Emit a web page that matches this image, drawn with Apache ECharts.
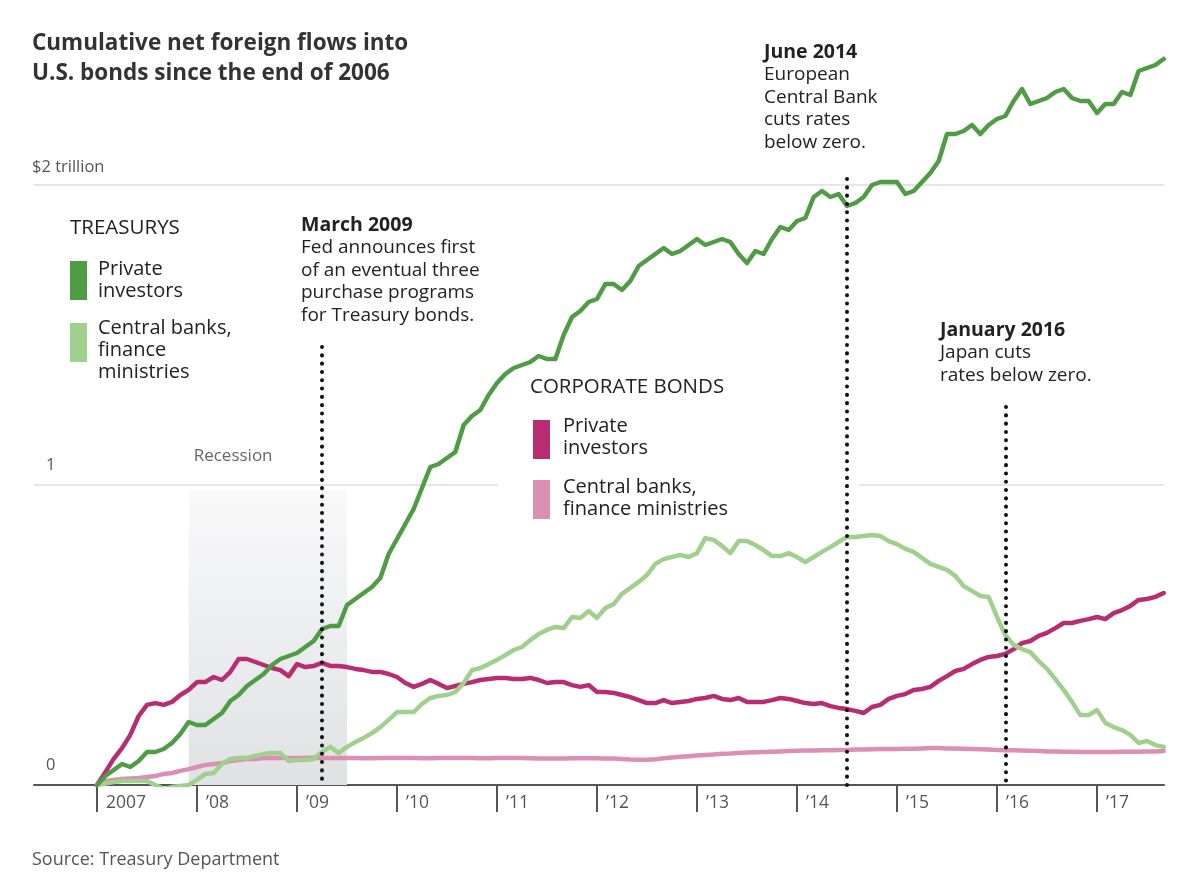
<!DOCTYPE html>
<html>
<head>
<meta charset="utf-8">
<script src="https://cdn.jsdelivr.net/npm/echarts@6/dist/echarts.min.js"></script>
<style>
  html, body { margin: 0; padding: 0; background: #fff; }
  #chart { width: 1200px; height: 895px; }
</style>
</head>
<body>
<div id="chart"></div>
<script>
// ---- DATA (trillions of dollars, month-end values; index 0 = end of 2006) ----
const startYear = 2007;
const yearTicks = [2007, 2008, 2009, 2010, 2011, 2012, 2013, 2014, 2015, 2016, 2017];
const yearLabels = ['2007', '\u201908', '\u201909', '\u201910', '\u201911', '\u201912', '\u201913', '\u201914', '\u201915', '\u201916', '\u201917'];

const treasuryPrivate = [
  0, 0.03, 0.05, 0.07, 0.06, 0.08, 0.11, 0.11, 0.12, 0.14, 0.17, 0.21,
  0.20, 0.20, 0.22, 0.24, 0.28, 0.30, 0.33, 0.35, 0.37, 0.40, 0.42, 0.43,
  0.44, 0.46, 0.48, 0.52, 0.53, 0.53, 0.60, 0.62, 0.64, 0.66, 0.69, 0.77,
  0.82, 0.87, 0.92, 0.99, 1.06, 1.07, 1.09, 1.11, 1.20, 1.23, 1.25, 1.30,
  1.34, 1.37, 1.39, 1.40, 1.41, 1.43, 1.42, 1.42, 1.50, 1.56, 1.58, 1.61,
  1.62, 1.67, 1.67, 1.65, 1.68, 1.73, 1.75, 1.77, 1.79, 1.77, 1.78, 1.80,
  1.82, 1.80, 1.81, 1.82, 1.81, 1.77, 1.74, 1.78, 1.77, 1.82, 1.86, 1.85,
  1.88, 1.89, 1.96, 1.98, 1.96, 1.97, 1.93, 1.94, 1.96, 2.00, 2.01, 2.01,
  2.01, 1.97, 1.98, 2.01, 2.04, 2.08, 2.17, 2.17, 2.18, 2.20, 2.17, 2.20,
  2.22, 2.23, 2.28, 2.32, 2.27, 2.28, 2.29, 2.31, 2.32, 2.29, 2.28, 2.28,
  2.24, 2.27, 2.27, 2.31, 2.30, 2.38, 2.39, 2.40, 2.42
];
const treasuryOfficial = [
  0, 0.005, 0.01, 0.013, 0.013, 0.013, 0.013, 0, -0.013, -0.007, -0.003, 0,
  0.017, 0.037, 0.04, 0.07, 0.087, 0.09, 0.09, 0.097, 0.103, 0.107, 0.107, 0.08,
  0.083, 0.083, 0.087, 0.11, 0.127, 0.107, 0.127, 0.143, 0.157, 0.173, 0.193, 0.217,
  0.243, 0.243, 0.243, 0.27, 0.29, 0.297, 0.30, 0.31, 0.34, 0.383, 0.39, 0.403,
  0.417, 0.433, 0.45, 0.46, 0.483, 0.503, 0.517, 0.527, 0.523, 0.56, 0.557, 0.58,
  0.557, 0.59, 0.603, 0.637, 0.657, 0.677, 0.70, 0.737, 0.753, 0.76, 0.767, 0.76,
  0.773, 0.823, 0.817, 0.797, 0.773, 0.813, 0.813, 0.80, 0.783, 0.763, 0.763, 0.773,
  0.76, 0.743, 0.76, 0.777, 0.793, 0.81, 0.827, 0.827, 0.83, 0.833, 0.83, 0.813,
  0.803, 0.787, 0.777, 0.757, 0.737, 0.727, 0.717, 0.697, 0.663, 0.647, 0.63, 0.627,
  0.56, 0.50, 0.467, 0.453, 0.443, 0.413, 0.387, 0.353, 0.317, 0.277, 0.233, 0.233,
  0.25, 0.207, 0.193, 0.183, 0.167, 0.14, 0.147, 0.133, 0.127
];
const corporatePrivate = [
  0, 0.043, 0.087, 0.123, 0.167, 0.23, 0.267, 0.273, 0.267, 0.277, 0.30, 0.317,
  0.343, 0.343, 0.36, 0.35, 0.377, 0.42, 0.42, 0.41, 0.40, 0.39, 0.383, 0.363,
  0.403, 0.393, 0.397, 0.407, 0.397, 0.397, 0.393, 0.387, 0.383, 0.377, 0.377, 0.37,
  0.36, 0.34, 0.327, 0.337, 0.35, 0.337, 0.323, 0.33, 0.337, 0.343, 0.35, 0.353,
  0.357, 0.357, 0.353, 0.353, 0.357, 0.35, 0.34, 0.343, 0.343, 0.333, 0.327, 0.333,
  0.31, 0.31, 0.307, 0.30, 0.293, 0.283, 0.273, 0.273, 0.283, 0.273, 0.277, 0.28,
  0.287, 0.29, 0.297, 0.287, 0.283, 0.29, 0.277, 0.277, 0.277, 0.283, 0.29, 0.287,
  0.28, 0.273, 0.27, 0.273, 0.263, 0.257, 0.253, 0.247, 0.24, 0.26, 0.267, 0.287,
  0.297, 0.303, 0.317, 0.32, 0.327, 0.347, 0.363, 0.38, 0.387, 0.403, 0.417, 0.427,
  0.43, 0.437, 0.453, 0.473, 0.48, 0.497, 0.507, 0.523, 0.54, 0.54, 0.547, 0.553,
  0.56, 0.553, 0.573, 0.583, 0.597, 0.617, 0.62, 0.627, 0.64
];
const corporateOfficial = [
  0, 0.013, 0.017, 0.02, 0.022, 0.023, 0.027, 0.03, 0.037, 0.04, 0.047, 0.053,
  0.06, 0.067, 0.07, 0.073, 0.08, 0.083, 0.087, 0.087, 0.09, 0.09, 0.09, 0.09,
  0.09, 0.09, 0.091, 0.09, 0.09, 0.09, 0.09, 0.09, 0.089, 0.089, 0.09, 0.09,
  0.09, 0.09, 0.09, 0.089, 0.089, 0.09, 0.09, 0.09, 0.09, 0.09, 0.089, 0.089,
  0.09, 0.09, 0.09, 0.09, 0.089, 0.088, 0.088, 0.088, 0.088, 0.089, 0.089, 0.089,
  0.089, 0.088, 0.088, 0.087, 0.085, 0.084, 0.084, 0.086, 0.089, 0.092, 0.094, 0.096,
  0.098, 0.10, 0.102, 0.104, 0.105, 0.107, 0.108, 0.109, 0.11, 0.111, 0.112, 0.113,
  0.114, 0.115, 0.115, 0.116, 0.116, 0.117, 0.117, 0.118, 0.118, 0.119, 0.12, 0.12,
  0.12, 0.121, 0.121, 0.122, 0.123, 0.123, 0.122, 0.122, 0.121, 0.12, 0.119, 0.118,
  0.117, 0.116, 0.116, 0.115, 0.114, 0.113, 0.112, 0.112, 0.111, 0.111, 0.11, 0.11,
  0.11, 0.11, 0.11, 0.111, 0.111, 0.111, 0.112, 0.112, 0.113
];

// Series names and their legend labels
const seriesNames = ['Treasurys: private investors', 'Treasurys: central banks', 'Corporate: private investors', 'Corporate: central banks'];
const legendLabels = ['Private\ninvestors', 'Central banks,\nfinance\nministries', 'Private\ninvestors', 'Central banks,\nfinance ministries'];

// Events: month index (0 = end of 2006) and the value where the dotted marker starts
const eventMonths = [27, 90, 109];
const eventTops = [1.46, 2.02, 1.26];
// Recession: Dec 2007 – June 2009 (month indexes) and shaded height
const recessionMonths = [11, 30];
const recessionTop = 0.983;
const gridValues = [1, 2];

// ---- helpers ----
const toX = (i) => startYear + i / 12;
const pairs = (arr) => arr.map((v, i) => [toX(i), v]);
const FONT = '"Open Sans", "Noto Sans", sans-serif';

const C_TP = '#4f9c45';
const C_TO = '#9fd08d';
const C_CP = '#b82c72';
const C_CO = '#db8fb3';

const chart = echarts.init(document.getElementById('chart'), null, { renderer: 'canvas' });

const lineSeries = (name, data, color, extra) => Object.assign({
  name, type: 'line', data: pairs(data), color,
  showSymbol: false, symbol: 'none', smooth: false,
  lineStyle: { color, width: 4.5, cap: 'round', join: 'round' },
  emphasis: { disabled: true }, silent: true, animation: false
}, extra || {});

// spacer: an optional thin first line that nudges the label block downward
const legendItem = (k, left, top, pad, spacer) => ({
  left, top, padding: 0, orient: 'vertical', itemWidth: 17, itemHeight: 39,
  icon: 'rect', selectedMode: false,
  textStyle: {
    fontFamily: FONT, fontSize: 20, color: '#222', lineHeight: 22, padding: pad,
    rich: { s: { fontSize: 8, lineHeight: spacer || 1 } }
  },
  data: [seriesNames[k]],
  formatter: () => (spacer ? '{s| }\n' : '') + legendLabels[k]
});
const noteStyle = (text) => ({
  text, font: '19px ' + FONT, fill: '#222', lineHeight: 22.5,
  rich: { b: { fontWeight: 'bold', fontSize: 19.5, fontFamily: FONT, fill: '#222', lineHeight: 22.5 } }
});

const option = {
  animation: false,
  textStyle: { fontFamily: FONT },
  title: {
    text: 'Cumulative net foreign flows into\nU.S. bonds since the end of 2006',
    left: 32, top: 29, padding: 0,
    textStyle: { fontFamily: FONT, fontSize: 22.5, fontWeight: 'bold', color: '#333', lineHeight: 30 }
  },
  grid: { left: 34, right: 36, top: 35, bottom: 110 },
  xAxis: {
    type: 'value',
    min: 2006.37, max: 2017.67,
    axisLine: { show: true, onZero: false, lineStyle: { color: '#555', width: 2 } },
    axisTick: { show: true, customValues: yearTicks, length: 27, lineStyle: { color: '#555', width: 2 } },
    axisLabel: {
      customValues: yearTicks,
      formatter: (v) => yearLabels[yearTicks.indexOf(Math.round(v))] || '',
      align: 'left', padding: [0, 0, 0, 9], margin: 9,
      fontFamily: FONT, fontSize: 17.5, color: '#555'
    },
    splitLine: { show: false }
  },
  yAxis: {
    type: 'value', min: 0, max: 2.5, interval: 1,
    axisLine: { show: false }, axisTick: { show: false },
    splitLine: { show: false },
    axisLabel: {
      inside: true, margin: 0,
      verticalAlign: 'bottom', lineHeight: 40,
      formatter: (v) => v === 0 ? '{n|0}' : v === 1 ? '{n|1}' : v === 2 ? '{t|$2 trillion}' : '',
      rich: {
        n: { fontFamily: FONT, fontSize: 16.5, color: '#555', padding: [0, 0, 0, 12], lineHeight: 40 },
        t: { fontFamily: FONT, fontSize: 16.5, color: '#555', padding: [0, 0, 0, -2], lineHeight: 36 }
      }
    }
  },
  legend: [
    legendItem(0, 70, 258.5, [0, 0, 0, 6]),
    legendItem(1, 70, 301.5, [0, 0, 0, 6], 16),
    legendItem(2, 533, 415.5, [0, 0, 4, 8]),
    legendItem(3, 533, 476.5, [0, 0, 2, 8])
  ],
  graphic: [
    { type: 'rect', z: 3, silent: true, shape: { x: 498, y: 478, width: 361, height: 14 }, style: { fill: '#fff' } },
    { type: 'text', left: 70, top: 217.5, silent: true,
      style: { text: 'TREASURYS', font: '20.5px ' + FONT, fill: '#222' } },
    { type: 'text', left: 530, top: 376.5, silent: true,
      style: { text: 'CORPORATE BONDS', font: '20.5px ' + FONT, fill: '#222' } },
    { type: 'text', left: 301, top: 214, silent: true,
      style: noteStyle('{b|March 2009}\nFed announces first\nof an eventual three\npurchase programs\nfor Treasury bonds.') },
    { type: 'text', left: 764, top: 41, silent: true,
      style: noteStyle('{b|June 2014}\nEuropean\nCentral Bank\ncuts rates\nbelow zero.') },
    { type: 'text', left: 940, top: 319, silent: true,
      style: noteStyle('{b|January 2016}\nJapan cuts\nrates below zero.') },
    { type: 'text', left: 32, top: 851, silent: true,
      style: { text: 'Source: Treasury Department', font: '18px ' + FONT, fill: '#555' } }
  ],
  series: [
    lineSeries(seriesNames[3], corporateOfficial, C_CO, {
      markLine: {
        silent: true, z: 1, symbol: ['none', 'none'], label: { show: false },
        lineStyle: { color: '#dcdcdc', width: 1.5, type: 'solid' },
        emphasis: { disabled: true },
        data: gridValues.map((v) => ({ yAxis: v }))
      }
    }),
    lineSeries(seriesNames[2], corporatePrivate, C_CP),
    lineSeries(seriesNames[1], treasuryOfficial, C_TO, {
      markArea: {
        silent: true, z: 1,
        itemStyle: {
          opacity: 1,
          color: { type: 'linear', x: 0, y: 0, x2: 0, y2: 1,
            colorStops: [{ offset: 0, color: '#f9f9fa' }, { offset: 1, color: '#dfe1e3' }] }
        },
        label: { show: true, position: [5, -42], color: '#666', fontFamily: FONT, fontSize: 17 },
        data: [[
          { name: 'Recession', xAxis: toX(recessionMonths[0]), yAxis: 0 },
          { xAxis: toX(recessionMonths[1]), yAxis: recessionTop }
        ]]
      }
    }),
    lineSeries(seriesNames[0], treasuryPrivate, C_TP, {
      markLine: {
        silent: true, z: 6, symbol: ['none', 'none'], label: { show: false },
        lineStyle: { color: '#111', width: 4, type: [0.1, 8.2], cap: 'round' },
        emphasis: { disabled: true },
        data: eventMonths.map((m, k) => [
          { coord: [toX(m), eventTops[k]] },
          { coord: [toX(m), 0] }
        ])
      }
    })
  ]
};

chart.setOption(option);
</script>
</body>
</html>
